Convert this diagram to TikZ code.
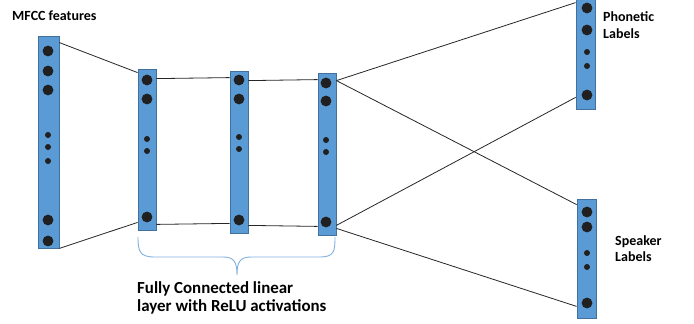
\documentclass[tikz,border=0pt]{standalone}
\usepackage{fontspec}
\setmainfont{Carlito}
\definecolor{barfill}{HTML}{5B9BD5}
\definecolor{barline}{HTML}{41719C}
\definecolor{dotcol}{HTML}{202020}
\definecolor{bracecol}{HTML}{7FB0E0}
\tikzset{
  layerbar/.style={draw=barline, line width=0.8pt, fill=barfill, inner sep=0pt, minimum width=#1},
  layerbar/.default=18pt,
  link/.style={draw=black!85, line width=0.8pt},
  bigdot/.style={fill=dotcol},
  lbl/.style={font=\bfseries\fontsize{14}{17}\selectfont, inner sep=0pt, anchor=base west},
  biglbl/.style={font=\bfseries\fontsize{16.9}{19}\selectfont, inner sep=0pt, anchor=base west},
}
\begin{document}
\begin{tikzpicture}[x=1pt, y=-1pt]
\useasboundingbox (0,0) rectangle (694,324);
\clip (0,0) rectangle (694,324);

% layer bars
\node[layerbar=21pt, minimum height=212pt] (mfcc) at (48.5,142) {};
\node[layerbar, minimum height=161pt] (h1) at (147,149.5) {};
\node[layerbar, minimum height=162pt] (h2) at (239,152) {};
\node[layerbar, minimum height=162pt] (h3) at (327,154) {};
\node[layerbar=19pt, minimum height=115pt] (phon) at (585.5,51.5) {};
\node[layerbar=19pt, minimum height=119pt] (spk) at (586.5,258.5) {};

% units inside the bars
\foreach \x/\ys/\yb in {48/{135,147,161}/{51,71,90,220,241},
                        147/{139,151}/{80,99,217},
                        239/{137,149}/{80,99,220},
                        326/{140,152}/{83,101,222},
                        587/{52,66}/{8,30,95},
                        587/{253,267}/{212,227,303}}{
  \foreach \y in \yb {\fill[bigdot] (\x,\y) circle (5.4pt);}
  \foreach \y in \ys {\fill[bigdot] (\x,\y) circle (3pt);}
}

% connections
\draw[link] ([yshift=-7pt]mfcc.north east) -- ([yshift=-4pt]h1.north west);
\draw[link] (mfcc.south east) -- ([yshift=8pt]h1.south west);
\draw[link] ([yshift=-10pt]h1.north east) -- ([yshift=-7pt]h2.north west);
\draw[link] ([yshift=-10pt]h2.north east) -- ([yshift=-7pt]h3.north west);
\draw[link] ([yshift=6pt]h1.south east) -- ([yshift=10pt]h2.south west);
\draw[link] ([yshift=8pt]h2.south east) -- ([yshift=9pt]h3.south west);
\draw[link] ([yshift=-8pt]h3.north east) -- ([yshift=-9pt]phon.north west);
\draw[link] ([yshift=-8pt]h3.north east) -- ([yshift=-6pt]spk.north west);
\draw[link] ([yshift=10pt]h3.south east) -- ([yshift=12pt]phon.south west);
\draw[link] ([yshift=7pt]h3.south east) -- ([yshift=12pt]spk.south west);

% brace under the hidden layers
\draw[bracecol, line width=0.9pt]
  (138,237) .. controls (138,252) and (140,257) .. (155,257) -- (223,257)
  .. controls (234,257) and (237,262) .. (237,275)
  .. controls (237,262) and (240,257) .. (251,257) -- (319,257)
  .. controls (334,257) and (335,252) .. (335,237);

% labels
\node[lbl] (tmfcc) at (12,20) {MFCC features};
\node[lbl] (tphon1) at (603,21) {Phonetic};
\node[lbl] (tphon2) at (603,38) {Labels};
\node[lbl] (tspk1) at (615,245) {Speaker};
\node[lbl] (tspk2) at (615,261) {Labels};
\node[biglbl] (tfc1) at (137,293) {Fully Connected linear};
\node[biglbl] (tfc2) at (137,311) {layer with ReLU activations};
\end{tikzpicture}
\end{document}
